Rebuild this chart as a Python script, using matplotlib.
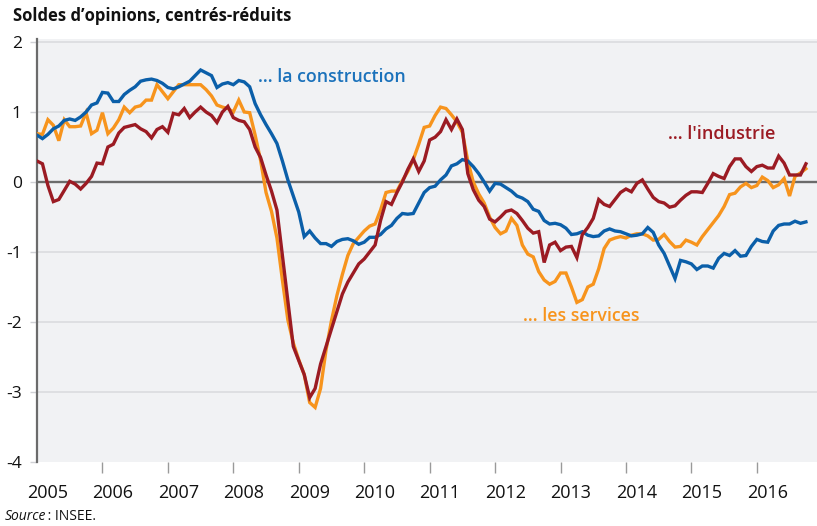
import matplotlib
matplotlib.use("Agg")
import matplotlib.pyplot as plt
from matplotlib import font_manager as fm
import numpy as np

# ---------------- data (monthly, Jan 2005 -> Oct 2016) ----------------
start_year = 2005
construction = [0.67,0.62,0.68,0.76,0.80,0.88,0.90,0.88,0.93,1.00,
    1.10,1.13,1.28,1.27,1.15,1.15,1.25,1.31,1.36,1.44,
    1.46,1.47,1.45,1.41,1.35,1.33,1.36,1.40,1.44,1.52,
    1.60,1.56,1.52,1.35,1.40,1.42,1.39,1.45,1.43,1.36,
    1.12,0.96,0.82,0.69,0.55,0.30,0.03,-0.20,-0.43,-0.78,
    -0.70,-0.80,-0.88,-0.88,-0.92,-0.85,-0.82,-0.81,-0.84,-0.89,
    -0.86,-0.79,-0.79,-0.75,-0.67,-0.62,-0.52,-0.45,-0.46,-0.45,
    -0.30,-0.15,-0.08,-0.06,0.03,0.10,0.23,0.26,0.32,0.30,
    0.22,0.12,0.00,-0.13,-0.02,-0.03,-0.08,-0.13,-0.20,-0.23,
    -0.28,-0.39,-0.42,-0.55,-0.60,-0.59,-0.61,-0.66,-0.75,-0.74,
    -0.71,-0.76,-0.78,-0.77,-0.70,-0.67,-0.70,-0.71,-0.74,-0.77,
    -0.76,-0.74,-0.65,-0.72,-0.90,-1.02,-1.20,-1.38,-1.12,-1.14,
    -1.17,-1.25,-1.20,-1.20,-1.23,-1.09,-1.02,-1.05,-0.98,-1.06,
    -1.05,-0.92,-0.82,-0.85,-0.86,-0.70,-0.62,-0.60,-0.60,-0.56,
    -0.59,-0.57]

services = [0.69,0.68,0.89,0.81,0.59,0.89,0.79,0.79,0.80,0.99,
    0.69,0.74,0.99,0.69,0.77,0.89,1.07,0.99,1.07,1.09,
    1.17,1.17,1.39,1.29,1.19,1.29,1.39,1.39,1.39,1.39,
    1.39,1.32,1.23,1.10,1.07,1.05,1.00,1.17,1.00,0.99,
    0.67,0.31,-0.15,-0.42,-0.80,-1.40,-1.97,-2.30,-2.54,-2.75,
    -3.15,-3.22,-2.95,-2.40,-1.98,-1.62,-1.32,-1.05,-0.88,-0.79,
    -0.70,-0.63,-0.60,-0.40,-0.15,-0.13,-0.13,0.02,0.15,0.32,
    0.54,0.78,0.80,0.95,1.07,1.05,0.96,0.86,0.71,0.30,
    0.00,-0.17,-0.30,-0.50,-0.65,-0.74,-0.70,-0.52,-0.62,-0.90,
    -1.03,-1.07,-1.28,-1.40,-1.46,-1.42,-1.30,-1.30,-1.50,-1.72,
    -1.68,-1.50,-1.46,-1.24,-0.95,-0.83,-0.80,-0.78,-0.80,-0.76,
    -0.74,-0.74,-0.77,-0.83,-0.82,-0.75,-0.85,-0.93,-0.92,-0.83,
    -0.86,-0.90,-0.78,-0.68,-0.58,-0.48,-0.35,-0.18,-0.16,-0.07,
    -0.02,-0.08,-0.05,0.07,0.02,-0.08,-0.04,0.05,-0.20,0.08,
    0.13,0.19]

industrie = [0.30,0.26,-0.05,-0.28,-0.25,-0.12,0.01,-0.03,-0.10,-0.02,
    0.08,0.27,0.26,0.50,0.54,0.70,0.78,0.80,0.82,0.76,
    0.72,0.63,0.75,0.79,0.71,0.98,0.96,1.05,0.92,1.00,
    1.07,1.00,0.95,0.85,1.00,1.08,0.92,0.88,0.86,0.75,
    0.50,0.35,0.10,-0.13,-0.40,-1.05,-1.70,-2.35,-2.55,-2.75,
    -3.08,-2.95,-2.60,-2.35,-2.10,-1.85,-1.60,-1.43,-1.30,-1.17,
    -1.10,-1.00,-0.90,-0.55,-0.28,-0.32,-0.15,0.00,0.18,0.33,
    0.15,0.30,0.60,0.64,0.72,0.89,0.75,0.90,0.75,0.12,
    -0.11,-0.26,-0.35,-0.53,-0.57,-0.50,-0.42,-0.40,-0.45,-0.55,
    -0.66,-0.73,-0.71,-1.15,-0.90,-0.86,-0.98,-0.93,-0.92,-1.08,
    -0.75,-0.65,-0.52,-0.25,-0.32,-0.35,-0.25,-0.15,-0.10,-0.14,
    -0.02,0.03,-0.10,-0.22,-0.28,-0.30,-0.36,-0.34,-0.26,-0.19,
    -0.14,-0.14,-0.15,-0.02,0.12,0.08,0.05,0.22,0.33,0.33,
    0.22,0.15,0.22,0.24,0.20,0.20,0.37,0.27,0.10,0.10,
    0.10,0.26]

years = list(range(2005, 2017))
year_labels = [str(y) for y in years]
yticks = [-4, -3, -2, -1, 0, 1, 2]

# ---------------- style ----------------
C_BLUE = "#0b5fa9"
C_BLUE_TXT = "#1b72bb"
C_ORANGE = "#f7941d"
C_RED = "#9b1b23"
BG = "#f1f2f4"

def has_font(name):
    try:
        fm.findfont(fm.FontProperties(family=name), fallback_to_default=False)
        return True
    except Exception:
        return False

MAIN = "Open Sans" if has_font("Open Sans") else "DejaVu Sans"
NARROW = "Liberation Sans Narrow" if has_font("Liberation Sans Narrow") else MAIN
plt.rcParams["font.family"] = [MAIN, "DejaVu Sans"]

W, H = 817, 526
fig = plt.figure(figsize=(W / 100, H / 100), dpi=100)

def fx(px):
    return px / W

def fy(py):
    return 1 - py / H

ax_left, ax_right, ax_top, ax_bottom = 37, 817, 38.5, 462
ax = fig.add_axes([fx(ax_left), fy(ax_bottom), fx(ax_right - ax_left), (ax_bottom - ax_top) / H])
ax.set_facecolor(BG)

n = len(construction)
t = start_year + np.arange(n) / 12.0
x_right = start_year + (ax_right - ax_left) / 65.44
ax.set_xlim(start_year, x_right)
ax.set_ylim(-4.0, 2.05)

# grid lines
for v in yticks:
    if v == 0:
        ax.axhline(v, color="#6b6b6b", lw=1.7, zorder=2)
    elif v != -4:
        ax.axhline(v, color="#dcdde1", lw=1.3, zorder=1)

lw = 2.4
ax.plot(t, services, color=C_ORANGE, lw=lw, zorder=3, solid_joinstyle="miter")
ax.plot(t, construction, color=C_BLUE, lw=lw, zorder=4, solid_joinstyle="miter")
ax.plot(t, industrie, color=C_RED, lw=lw, zorder=5, solid_joinstyle="miter")

for s in ["top", "right", "bottom"]:
    ax.spines[s].set_visible(False)
ax.spines["left"].set_color("#6b6b6b")
ax.spines["left"].set_linewidth(1.6)

ax.set_yticks(yticks)
ax.set_yticklabels([str(v) for v in yticks])
ax.tick_params(axis="y", direction="out", length=5, width=1.0, color="#d0d1d5",
               labelsize=12.5, pad=6, labelcolor="#111111")
for lab in ax.get_yticklabels():
    lab.set_fontfamily(NARROW)

ax.set_xticks(years[1:])
ax.set_xticklabels([])
ax.tick_params(axis="x", which="major", direction="out", length=8, width=1.0,
               color="#9a9a9a", pad=3)
ax.set_xticks([y + 0.16 for y in years], minor=True)
ax.set_xticklabels(year_labels, minor=True)
ax.tick_params(axis="x", which="minor", length=0, labelsize=13, pad=16,
               labelcolor="#111111")
for lab in ax.get_xticklabels(minor=True):
    lab.set_fontfamily(NARROW)

# texts
fig.text(fx(13), fy(16), "Soldes d\u2019opinions, centrés-réduits", ha="left", va="center",
         fontsize=12, fontweight="bold", color="#111111")
fig.text(fx(258), fy(77), "... la construction", ha="left", va="center",
         fontsize=12.8, fontweight="semibold", color=C_BLUE_TXT)
fig.text(fx(668), fy(134), "... l'industrie", ha="left", va="center",
         fontsize=13, fontweight="semibold", color=C_RED)
fig.text(fx(523), fy(316), "... les services", ha="left", va="center",
         fontsize=12.8, fontweight="semibold", color=C_ORANGE)
fig.text(fx(5), fy(516), "Source", ha="left", va="center", fontsize=10,
         style="italic", family=NARROW, color="#111111")
fig.text(fx(44), fy(516), " : INSEE.", ha="left", va="center", fontsize=10,
         family=NARROW, color="#111111")

fig.savefig("out.png", dpi=100)
